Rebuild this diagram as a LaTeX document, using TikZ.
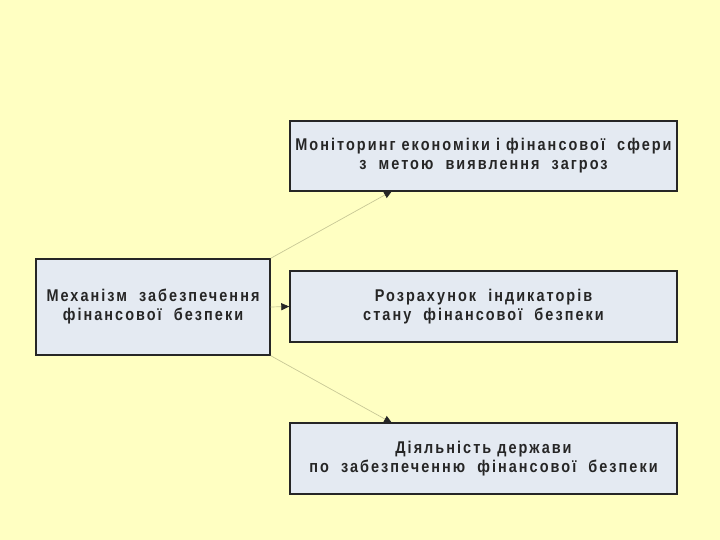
\documentclass[tikz,border=0pt]{standalone}
\usepackage{fontspec}
\setmainfont{Liberation Sans}
\newfontfamily\boxfont[LetterSpace=12,FakeStretch=0.85]{Liberation Sans}
\usetikzlibrary{arrows.meta}
\definecolor{bgyellow}{RGB}{255,255,194}
\definecolor{boxfill}{RGB}{228,234,242}
\definecolor{linkcol}{RGB}{200,200,150}
\tikzset{
  x=1pt,y=-1pt,
  blk/.style={draw=black!85,line width=1.4pt,fill=boxfill,align=center,
    font=\boxfont\bfseries\fontsize{17}{19}\selectfont,text=black!85,inner sep=0pt},
  link/.style={draw=linkcol,line width=0.7pt,-{Triangle[length=8pt,width=7pt,color=black!85,fill=black!85]}}
}
\begin{document}
\begin{tikzpicture}
\fill[bgyellow] (0,0) rectangle (720,540);
\useasboundingbox (0,0) rectangle (720,540);
\node[blk,minimum width=234pt,minimum height=96pt] (mech) at (153,307)
  {Механізм~~забезпечення\\фінансової~~безпеки};
\node[blk,minimum width=387pt,minimum height=70pt] (mon) at (483.5,156)
  {Моніторинг економіки і фінансової~~сфери\\з~~метою~~виявлення~~загроз};
\node[blk,minimum width=387pt,minimum height=71pt] (calc) at (483.5,306.5)
  {Розрахунок~~індикаторів\\стану~~фінансової~~безпеки};
\node[blk,minimum width=387pt,minimum height=71pt] (act) at (483.5,458.5)
  {Діяльність держави\\по~~забезпеченню~~фінансової~~безпеки};
\coordinate (a1) at (392,191);
\coordinate (a3) at (392,423);
\draw[link] (mech.north east) -- (a1);
\draw[link] (mech.east) -- (calc.west);
\draw[link] (mech.south east) -- (a3);
\end{tikzpicture}
\end{document}
